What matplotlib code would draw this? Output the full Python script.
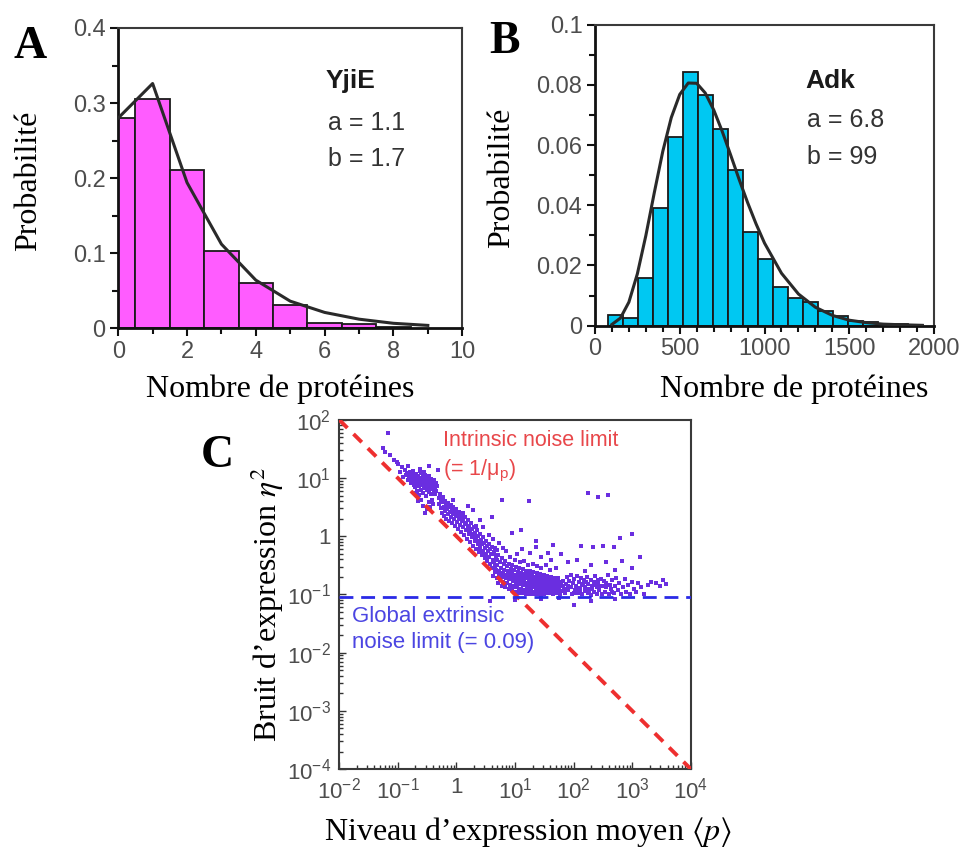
import numpy as np
import matplotlib
matplotlib.use("Agg")
import matplotlib.pyplot as plt
from matplotlib.ticker import MultipleLocator, FixedLocator, LogLocator, NullFormatter

plt.rcParams['font.family'] = ['Liberation Sans', 'DejaVu Sans']
plt.rcParams['mathtext.fontset'] = 'stix'

SERIF = ['Liberation Serif', 'DejaVu Serif']
TICK_GREY = '#4d4d4d'

# --- A : YjiE histogram + gamma fit (a=1.1, b=1.7)
yjie_edges = [0, 0.5, 1.5, 2.5, 3.5, 4.5, 5.5, 6.5, 7.5, 8.5]
yjie_prob = [0.280, 0.306, 0.211, 0.103, 0.060, 0.031, 0.007, 0.006, 0.002]
yjie_fit_x = [0, 1, 2, 3, 4, 5, 6, 7, 8, 9]
yjie_fit_y = [0.280, 0.326, 0.194, 0.112, 0.064, 0.036, 0.021, 0.012, 0.0065, 0.0037]

# --- B : Adk histogram + gamma fit (a=6.8, b=99)
adk_edges = [75, 163, 252, 340, 429, 517, 606, 694, 783, 871, 960, 1048,
             1137, 1225, 1314, 1402, 1491, 1579, 1668, 1756, 1845, 1933]
adk_prob = [0.0035, 0.0025, 0.0158, 0.0392, 0.0627, 0.0841, 0.0767, 0.0652,
            0.0516, 0.0312, 0.0221, 0.0128, 0.0092, 0.0079, 0.0048, 0.0031,
            0.0017, 0.0011, 0.0007, 0.0005, 0.0003]
adk_fit_x = [100, 150, 200, 250, 300, 350, 400, 450, 500, 550, 600, 650, 700,
             750, 800, 850, 900, 950, 1000, 1100, 1200, 1300, 1400, 1500, 1600,
             1700, 1800, 1930]
adk_fit_y = [0.0004, 0.0025, 0.0078, 0.0172, 0.0299, 0.0442, 0.0579, 0.0691,
             0.0768, 0.0806, 0.0805, 0.0773, 0.0717, 0.0646, 0.0567, 0.0486,
             0.0409, 0.0338, 0.0274, 0.0174, 0.0105, 0.0061, 0.0034, 0.0018,
             0.0010, 0.0005, 0.0003, 0.0001]

# --- C : noise vs mean expression, points as (log10 <p>, log10 eta^2)
low_expr = [
    (-1.16, 1.77), (-1.25, 1.52), (-1.21, 1.44), (-1.13, 1.39), (-1.06, 1.31), (-0.99, 1.24),
    (-0.93, 1.19), (-0.96, 1.10), (-0.88, 1.14), (-0.86, 1.05), (-0.91, 1.01), (-1.02, 1.27),
    (-0.62, 1.16), (-0.47, 1.20), (-0.31, 1.14), (-0.82, 1.20),
    (-0.84, 1.08), (-0.81, 1.03), (-0.79, 1.10), (-0.77, 0.98), (-0.75, 1.05), (-0.74, 1.12),
    (-0.72, 0.94), (-0.70, 1.01), (-0.69, 1.07), (-0.68, 0.90), (-0.66, 0.97), (-0.65, 1.04),
    (-0.64, 0.86), (-0.63, 0.93), (-0.61, 1.00), (-0.60, 1.09), (-0.59, 0.88), (-0.58, 0.95),
    (-0.57, 1.02), (-0.56, 0.82), (-0.55, 0.91), (-0.54, 0.98), (-0.53, 1.05), (-0.52, 0.87),
    (-0.51, 0.94), (-0.50, 0.79), (-0.49, 0.90), (-0.48, 0.97), (-0.47, 1.03), (-0.46, 0.85),
    (-0.45, 0.92), (-0.44, 0.88), (-0.43, 0.96), (-0.42, 0.83), (-0.41, 0.90), (-0.40, 0.86),
    (-0.39, 0.93), (-0.38, 0.80), (-0.37, 0.88), (-0.36, 0.84), (-0.35, 0.91), (-0.34, 0.77),
    (-0.33, 0.86), (-0.60, 0.80), (-0.70, 0.85), (-0.78, 0.92), (-0.83, 0.96), (-0.67, 0.78),
    (-0.62, 1.12), (-0.55, 1.10), (-0.47, 0.76), (-0.73, 0.88), (-0.52, 0.92), (-0.58, 0.89),
    (-0.44, 0.99), (-0.50, 1.00), (-0.64, 0.95), (-0.39, 0.97), (-0.76, 1.01), (-0.71, 0.97),
    (-0.54, 0.85), (-0.45, 0.81), (-0.42, 0.93), (-0.49, 0.84), (-0.57, 0.74), (-0.63, 0.70),
    (-0.69, 0.75), (-0.52, 0.69), (-0.43, 0.72), (-0.37, 0.73),
    (-0.57, 0.52), (-0.54, 0.40), (-0.50, 0.46), (-0.47, 0.58), (-0.45, 0.50), (-0.42, 0.62),
    (-0.40, 0.55), (-0.60, 0.62), (-0.65, 0.60),
]
descent = [
    (-0.30, 0.66), (-0.29, 0.55), (-0.28, 0.72), (-0.27, 0.48), (-0.26, 0.62), (-0.25, 0.40),
    (-0.24, 0.58), (-0.23, 0.68), (-0.22, 0.50), (-0.21, 0.35), (-0.20, 0.60), (-0.19, 0.44),
    (-0.18, 0.53), (-0.17, 0.30), (-0.16, 0.47), (-0.15, 0.57), (-0.14, 0.38), (-0.13, 0.50),
    (-0.12, 0.26), (-0.11, 0.42), (-0.10, 0.54), (-0.09, 0.33), (-0.08, 0.45), (-0.07, 0.22),
    (-0.06, 0.38), (-0.05, 0.50), (-0.04, 0.30), (-0.03, 0.41), (-0.02, 0.17), (-0.01, 0.34),
    (0.00, 0.46), (0.01, 0.25), (0.02, 0.37), (0.03, 0.12), (0.04, 0.30), (0.05, 0.42),
    (0.06, 0.20), (0.07, 0.33), (0.08, 0.07), (0.09, 0.26), (0.10, 0.37), (0.11, 0.15),
    (0.12, 0.28), (0.13, 0.02), (0.14, 0.21), (0.15, 0.33), (0.16, 0.10), (0.17, 0.23),
    (0.18, -0.04), (0.19, 0.16), (0.20, 0.28), (0.21, 0.04), (0.22, 0.18), (0.23, -0.10),
    (0.24, 0.10), (0.25, 0.22), (0.26, -0.02), (0.27, 0.12), (0.28, -0.16), (0.29, 0.04),
    (0.30, 0.16), (0.31, -0.08), (0.32, 0.06), (0.33, -0.22), (0.34, -0.02), (0.35, 0.10),
    (0.36, -0.14), (0.37, 0.00), (0.38, -0.27), (0.39, -0.08), (0.40, 0.04), (0.41, -0.20),
    (0.42, -0.06), (0.43, -0.32), (0.44, -0.14), (0.45, -0.02), (0.46, -0.26), (0.47, -0.12),
    (0.48, -0.37), (0.49, -0.20), (0.50, -0.08), (0.51, -0.31), (0.52, -0.17), (0.53, -0.42),
    (0.54, -0.25), (0.55, -0.13), (0.56, -0.36), (0.57, -0.22), (0.58, -0.47), (0.59, -0.30),
    (0.60, -0.18), (0.62, -0.40), (0.64, -0.27), (0.66, -0.52), (0.68, -0.34), (0.70, -0.23),
    (0.12, 0.40), (0.29, 0.45), (0.34, 0.17), (0.20, 0.52), (-0.05, 0.62), (0.45, 0.15),
    (0.55, 0.02), (0.62, -0.05), (0.72, -0.12), (0.80, -0.20), (0.40, 0.28),
]
dense_core = [
    (0.61, -0.55), (0.63, -0.30), (0.62, -0.68), (0.64, -0.45), (0.66, -0.62), (0.655, -0.20),
    (0.67, -0.58), (0.69, -0.72), (0.685, -0.40), (0.70, -0.50), (0.72, -0.66), (0.71, -0.33),
    (0.715, -0.80), (0.73, -0.60), (0.745, -0.45), (0.75, -0.75), (0.76, -0.55), (0.78, -0.70),
    (0.77, -0.38), (0.775, -0.85), (0.79, -0.63), (0.81, -0.48), (0.80, -0.78), (0.82, -0.58),
    (0.84, -0.72), (0.83, -0.42), (0.835, -0.88), (0.85, -0.66), (0.87, -0.52), (0.86, -0.80),
    (0.88, -0.60), (0.90, -0.74), (0.89, -0.47), (0.895, -0.91), (0.91, -0.69), (0.93, -0.56),
    (0.92, -0.83), (0.94, -0.63), (0.96, -0.77), (0.95, -0.50), (0.955, -0.93), (0.97, -0.71),
    (0.99, -0.58), (0.98, -0.86), (1.00, -0.66), (1.02, -0.80), (1.01, -0.53), (1.015, -0.95),
    (1.03, -0.74), (1.05, -0.61), (1.04, -0.88), (1.06, -0.68), (1.08, -0.82), (1.07, -0.55),
    (1.075, -0.97), (1.09, -0.76), (1.11, -0.63), (1.10, -0.90), (1.12, -0.70), (1.14, -0.84),
    (1.13, -0.57), (1.135, -0.98), (1.15, -0.78), (1.17, -0.65), (1.16, -0.92), (1.18, -0.72),
    (1.20, -0.86), (1.19, -0.59), (1.195, -0.99), (1.21, -0.80), (1.23, -0.67), (1.22, -0.93),
    (1.24, -0.74), (1.26, -0.87), (1.25, -0.60), (1.255, -1.00), (1.27, -0.81), (1.29, -0.68),
    (1.28, -0.94), (1.30, -0.75), (1.32, -0.88), (1.31, -0.62), (1.315, -0.99), (1.33, -0.82),
    (1.35, -0.70), (1.34, -0.95), (1.36, -0.76), (1.38, -0.89), (1.37, -0.63), (1.375, -1.00),
    (1.39, -0.83), (1.41, -0.71), (1.40, -0.96), (1.42, -0.77), (1.44, -0.90), (1.43, -0.65),
    (1.435, -1.01), (1.45, -0.84), (1.47, -0.72), (1.46, -0.96), (1.48, -0.78), (1.50, -0.91),
    (1.49, -0.66), (1.495, -1.00), (1.51, -0.85), (1.53, -0.73), (1.52, -0.97), (1.54, -0.79),
    (1.56, -0.92), (1.55, -0.68), (1.57, -0.86), (1.59, -0.74), (1.58, -0.98), (1.60, -0.80),
    (1.62, -0.93), (1.61, -0.70), (1.63, -0.87), (1.65, -0.75), (1.64, -0.99), (1.66, -0.81),
    (1.68, -0.94), (1.67, -0.71), (1.69, -0.88), (1.71, -0.76), (1.70, -0.98), (1.72, -0.82),
    (1.74, -0.95), (1.73, -0.72), (1.75, -0.89), (1.77, -0.78), (1.76, -1.00), (1.78, -0.84),
    (1.80, -0.94), (1.81, -0.77), (1.83, -0.90), (1.82, -0.85), (1.85, -0.97),
    (0.90, -0.64), (0.98, -0.68), (1.05, -0.72), (1.12, -0.77), (1.18, -0.80), (1.24, -0.83),
    (1.30, -0.86), (1.36, -0.92), (1.42, -0.86), (1.48, -0.88), (1.54, -0.86), (1.60, -0.89),
    (1.66, -0.90), (1.72, -0.86), (1.06, -0.92), (1.16, -0.96), (1.28, -0.78), (1.40, -0.80),
    (1.52, -0.80), (1.64, -0.84), (0.94, -0.86), (1.02, -0.88),
    (0.92, -0.35), (1.00, -0.40), (1.08, -0.45), (1.15, -0.42), (1.22, -0.50), (1.30, -0.48),
    (1.38, -0.52), (1.45, -0.55), (1.52, -0.50), (1.60, -0.58), (1.70, -0.55), (1.04, -0.30),
    (1.25, -0.28), (1.45, -0.35), (1.62, -0.40), (0.85, -0.25), (1.12, -0.22), (1.35, -0.18),
    (0.57, -1.12), (1.00, -1.10), (1.45, -1.07), (2.00, -1.18), (2.30, -1.12), (1.75, -1.06),
    (2.70, -1.07),
]
plateau = [
    (1.87, -0.82), (1.88, -0.70), (1.90, -0.93), (1.92, -0.77), (1.94, -0.88), (1.95, -0.66),
    (1.97, -0.99), (1.99, -0.81), (2.00, -0.73), (2.02, -0.92), (2.04, -0.85), (2.05, -0.68),
    (2.07, -0.97), (2.09, -0.79), (2.10, -0.89), (2.12, -0.72), (2.14, -1.00), (2.15, -0.84),
    (2.17, -0.76), (2.19, -0.94), (2.20, -0.87), (2.22, -0.70), (2.24, -0.98), (2.25, -0.82),
    (2.27, -0.91), (2.29, -0.75), (2.30, -1.01), (2.32, -0.86), (2.34, -0.79), (2.35, -0.95),
    (2.37, -0.69), (2.39, -0.88), (2.40, -0.99), (2.42, -0.81), (2.44, -0.92), (2.46, -0.74),
    (2.48, -1.00), (2.50, -0.85), (2.52, -0.77), (2.54, -0.95), (2.56, -0.88), (2.58, -0.66),
    (2.60, -1.00), (2.62, -0.83), (2.64, -0.91), (2.66, -0.76), (2.69, -0.97), (2.71, -0.86),
    (2.73, -0.71), (2.76, -0.93), (2.78, -0.80), (2.81, -0.99), (2.84, -0.88), (2.87, -0.74),
    (2.90, -0.95), (2.93, -0.84), (2.96, -1.00), (2.99, -0.78), (3.03, -0.90), (3.07, -0.96),
    (3.10, -0.81), (3.15, -0.87), (3.20, -0.99), (3.27, -0.84), (3.32, -0.78), (3.40, -0.81),
    (3.47, -0.85), (3.52, -0.76), (3.58, -0.82),
    (1.96, -0.87), (2.06, -0.90), (2.16, -0.82), (2.26, -0.94), (2.36, -0.84), (2.45, -0.86),
    (2.55, -0.81), (2.65, -0.96), (2.11, -0.95), (2.21, -0.78), (2.31, -0.90), (2.41, -0.76),
    (2.01, -0.97), (1.91, -0.85),
]
outliers = [
    (0.77, 0.63), (1.24, 0.60), (2.25, 0.74), (2.42, 0.68), (2.59, 0.71), (1.11, 0.11),
    (2.99, 0.03), (2.79, -0.03), (2.13, -0.17), (2.33, -0.18), (2.50, -0.17), (2.68, -0.18),
    (3.13, -0.35), (1.57, -0.29), (1.78, -0.31), (1.90, -0.45), (2.06, -0.40), (2.30, -0.50),
    (2.55, -0.45), (2.82, -0.42), (3.00, -0.55), (2.20, -0.60), (2.70, -0.58), (1.65, -0.15),
    (0.60, 0.33), (0.95, 0.05), (1.35, -0.08),
]
intrinsic_p = [1e-2, 1e4]
intrinsic_eta = [1e2, 1e-4]
extrinsic_eta = 0.09

x_dec_labels = [r'$\mathregular{10^{-2}}$', r'$\mathregular{10^{-1}}$', '1',
                r'$\mathregular{10^{1}}$', r'$\mathregular{10^{2}}$',
                r'$\mathregular{10^{3}}$', r'$\mathregular{10^{4}}$']
y_dec_labels = [r'$\mathregular{10^{-4}}$', r'$\mathregular{10^{-3}}$', r'$\mathregular{10^{-2}}$',
                r'$\mathregular{10^{-1}}$', '1', r'$\mathregular{10^{1}}$', r'$\mathregular{10^{2}}$']

fig = plt.figure(figsize=(9.69, 8.48), dpi=100)
fig.patch.set_facecolor('white')

ax_a = fig.add_axes([0.122, 0.613, 0.355, 0.354])
ax_b = fig.add_axes([0.614, 0.616, 0.350, 0.355])
ax_c = fig.add_axes([0.350, 0.093, 0.363, 0.412])


def style_hist_axes(ax):
    for side in ['top', 'right']:
        ax.spines[side].set_color('#3a3a3a')
        ax.spines[side].set_linewidth(1.5)
    for side in ['left', 'bottom']:
        ax.spines[side].set_color('#111111')
        ax.spines[side].set_linewidth(2.0)
    ax.tick_params(which='both', direction='out', color='#111111', width=1.5,
                   labelsize=17, labelcolor=TICK_GREY, top=False, right=False)
    ax.tick_params(which='major', length=6, pad=3)
    ax.tick_params(which='minor', length=4)


# A
ax_a.bar(yjie_edges[:-1], yjie_prob, width=np.diff(yjie_edges), align='edge',
         color='#ff5cff', edgecolor='#1a1a1a', linewidth=1.3, zorder=2)
ax_a.plot(yjie_fit_x, yjie_fit_y, color='#2a2a2a', lw=2.2, zorder=3)
ax_a.set_xlim(0, 10)
ax_a.set_ylim(0, 0.4)
ax_a.xaxis.set_major_locator(MultipleLocator(2))
ax_a.xaxis.set_minor_locator(MultipleLocator(1))
ax_a.yaxis.set_major_locator(FixedLocator([0, 0.1, 0.2, 0.3, 0.4]))
ax_a.yaxis.set_minor_locator(MultipleLocator(0.05))
ax_a.set_yticklabels(['0', '0.1', '0.2', '0.3', '0.4'])
style_hist_axes(ax_a)
ax_a.text(6.02, 0.329, 'YjiE', fontsize=19, fontweight='bold', color='#1a1a1a', va='center')
ax_a.text(6.1, 0.273, 'a = 1.1', fontsize=18, color='#333333', va='center')
ax_a.text(6.1, 0.225, 'b = 1.7', fontsize=18, color='#333333', va='center')
ax_a.set_ylabel('Probabilité', family=SERIF, fontsize=23)
ax_a.set_xlabel('Nombre de protéines', family=SERIF, fontsize=23)
ax_a.yaxis.set_label_coords(-0.262, 0.49)
ax_a.yaxis.label.set_verticalalignment('center')
ax_a.xaxis.set_label_coords(0.471, -0.205)
ax_a.xaxis.label.set_verticalalignment('center')

# B
ax_b.bar(adk_edges[:-1], adk_prob, width=np.diff(adk_edges), align='edge',
         color='#00c8f2', edgecolor='#1a1a1a', linewidth=1.3, zorder=2)
ax_b.plot(adk_fit_x, adk_fit_y, color='#2a2a2a', lw=2.2, zorder=3)
ax_b.set_xlim(0, 2000)
ax_b.set_ylim(0, 0.1)
ax_b.xaxis.set_major_locator(MultipleLocator(500))
ax_b.xaxis.set_minor_locator(MultipleLocator(100))
ax_b.yaxis.set_major_locator(FixedLocator([0, 0.02, 0.04, 0.06, 0.08, 0.1]))
ax_b.yaxis.set_minor_locator(MultipleLocator(0.01))
ax_b.set_yticklabels(['0', '0.02', '0.04', '0.06', '0.08', '0.1'])
style_hist_axes(ax_b)
ax_b.text(1239, 0.0814, 'Adk', fontsize=19, fontweight='bold', color='#1a1a1a', va='center')
ax_b.text(1250, 0.0684, 'a = 6.8', fontsize=18, color='#333333', va='center')
ax_b.text(1250, 0.0560, 'b = 99', fontsize=18, color='#333333', va='center')
ax_b.set_ylabel('Probabilité', family=SERIF, fontsize=23)
ax_b.set_xlabel('Nombre de protéines', family=SERIF, fontsize=23)
ax_b.yaxis.set_label_coords(-0.274, 0.49)
ax_b.yaxis.label.set_verticalalignment('center')
ax_b.xaxis.set_label_coords(0.587, -0.21)
ax_b.xaxis.label.set_verticalalignment('center')

# C
pts = np.array(low_expr + descent + dense_core + plateau + outliers)
ax_c.scatter(10 ** pts[:, 0], 10 ** pts[:, 1], s=9, marker='s', color='#6a2ee0',
             linewidths=0, zorder=2)
ax_c.plot(intrinsic_p, intrinsic_eta, color='#ee2f2f', lw=2.8, dashes=(3.0, 2.2), zorder=3,
          solid_capstyle='butt')
ax_c.axhline(extrinsic_eta, color='#2a2ae6', lw=2.0, dashes=(5, 2.8), zorder=3)
ax_c.set_xscale('log')
ax_c.set_yscale('log')
ax_c.set_xlim(1e-2, 1e4)
ax_c.set_ylim(1e-4, 1e2)
ax_c.xaxis.set_major_locator(FixedLocator([1e-2, 1e-1, 1, 1e1, 1e2, 1e3, 1e4]))
ax_c.yaxis.set_major_locator(FixedLocator([1e-4, 1e-3, 1e-2, 1e-1, 1, 1e1, 1e2]))
ax_c.set_xticklabels(x_dec_labels)
ax_c.set_yticklabels(y_dec_labels)
ax_c.xaxis.set_minor_locator(LogLocator(base=10, subs=range(2, 10), numticks=30))
ax_c.yaxis.set_minor_locator(LogLocator(base=10, subs=range(2, 10), numticks=30))
ax_c.xaxis.set_minor_formatter(NullFormatter())
ax_c.yaxis.set_minor_formatter(NullFormatter())
for side in ax_c.spines:
    ax_c.spines[side].set_color('#3a3a3a')
    ax_c.spines[side].set_linewidth(1.5)
ax_c.tick_params(which='both', direction='in', color='#333333', width=1.0,
                 labelsize=16, labelcolor=TICK_GREY, top=False, right=False)
ax_c.tick_params(which='major', length=5, pad=6)
ax_c.tick_params(which='minor', length=3)

ax_c.text(10 ** -0.225, 10 ** 1.64, 'Intrinsic noise limit', fontsize=15.5,
          color='#e8474a', va='center')
ax_c.text(10 ** -0.225, 10 ** 1.14, '(= 1/μ$_\\mathregular{p}$)', fontsize=15.5,
          color='#e8474a', va='center')
ax_c.text(10 ** -1.78, 10 ** -1.38, 'Global extrinsic', fontsize=16,
          color='#4b45e2', va='center')
ax_c.text(10 ** -1.78, 10 ** -1.83, 'noise limit (= 0.09)', fontsize=16,
          color='#4b45e2', va='center')
ax_c.set_ylabel('Bruit d’expression $\\eta^2$', family=SERIF, fontsize=23)
ax_c.set_xlabel('Niveau d’expression moyen $\\langle p\\rangle$', family=SERIF, fontsize=23)
ax_c.yaxis.set_label_coords(-0.205, 0.47)
ax_c.yaxis.label.set_verticalalignment('center')
ax_c.xaxis.set_label_coords(0.537, -0.18)
ax_c.xaxis.label.set_verticalalignment('center')

# panel letters
for letter, x, y in [('A', 0.031, 0.945), ('B', 0.521, 0.950), ('C', 0.224, 0.462)]:
    fig.text(x, y, letter, family=SERIF, fontsize=33, fontweight='bold',
             ha='center', va='center', color='black')

fig.savefig('out.png', dpi=100, facecolor='white')
